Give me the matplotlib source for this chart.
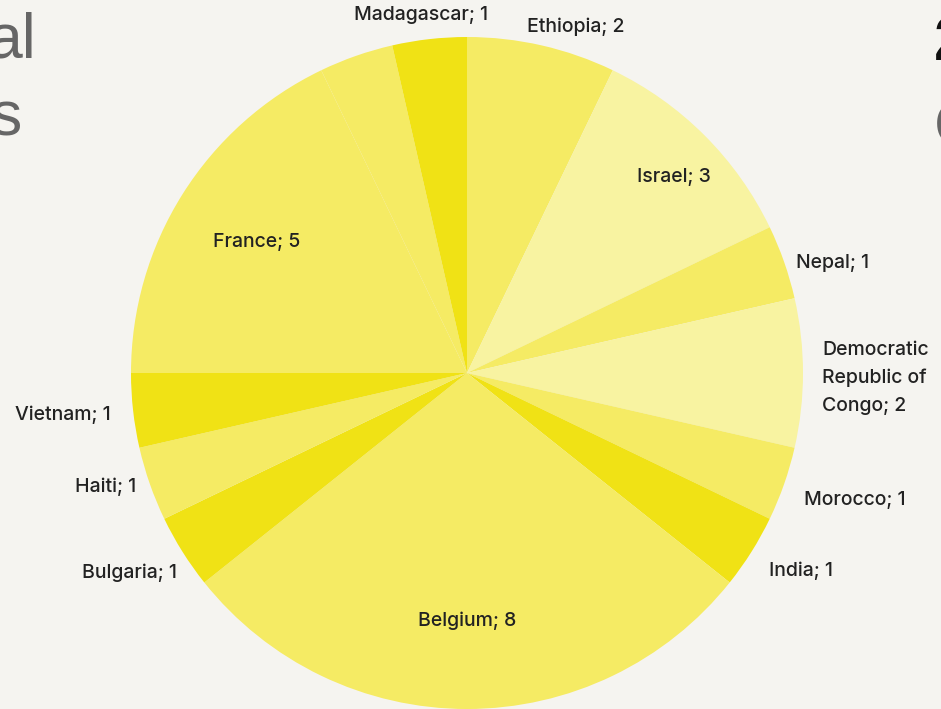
import matplotlib
matplotlib.use("Agg")
import matplotlib.pyplot as plt

# slices, clockwise from 12 o'clock
# the drawn wedges add up to 28 units; one unit between France and Madagascar has no label
countries = ["Ethiopia", "Israel", "Nepal", "Democratic\nRepublic of\nCongo", "Morocco",
             "India", "Belgium", "Bulgaria", "Haiti", "Vietnam", "France", "", "Madagascar"]
counts = [2, 3, 1, 2, 1, 1, 8, 1, 1, 1, 5, 1, 1]

MID = "#f5eb64"
PALE = "#f8f3a1"
DARK = "#f0e215"
colors = [MID, PALE, MID, PALE, MID, DARK, MID, DARK, MID, DARK, MID, MID, DARK]

# label anchor points, in pie-radius units from the centre
label_pos = [(0.324, 1.030), (0.616, 0.583), (1.089, 0.327), (1.057, -0.015), (1.155, -0.378),
             (0.994, -0.589), (0.0, -0.738), (-1.006, -0.595), (-1.077, -0.339), (-1.202, -0.125),
             (-0.625, 0.390), None, (-0.137, 1.065)]

BG = "#f5f4f0"
plt.rcParams['font.family'] = ['Inter', 'DejaVu Sans']

fig = plt.figure(figsize=(9.41, 7.09), dpi=100, facecolor=BG)
ax = fig.add_axes([0, 0, 1, 1])
ax.set_facecolor(BG)

ax.pie(counts, colors=colors, startangle=90, counterclock=False, radius=1.0,
       wedgeprops=dict(linewidth=0))

for name, n, pos in zip(countries, counts, label_pos):
    if pos is None:
        continue
    ha = 'left' if name.startswith("Democratic") else 'center'
    ax.text(pos[0], pos[1], f"{name}; {n}", ha=ha, va='center', fontsize=14, fontweight=500,
            color="#222222", linespacing=1.7)

# slide text that the screenshot cuts off
big = dict(fontsize=45, family=['Liberation Sans', 'DejaVu Sans'])
ax.text(-1.283, (373 - 58) / 336, "al", ha='right', va='baseline', color="#666666", **big)
ax.text(-1.325, (373 - 136) / 336, "s", ha='right', va='baseline', color="#666666", **big)
ax.text(1.39, (373 - 60) / 336, "2", ha='left', va='baseline', color="#111111",
        fontweight='bold', **big)
ax.text(1.39, (373 - 146) / 336, "C", ha='left', va='baseline', color="#666666", **big)

ax.set_xlim(-467 / 336, (941 - 467) / 336)
ax.set_ylim(-(709 - 373) / 336, 373 / 336)
ax.set_aspect('equal')
ax.axis('off')

fig.savefig("out.png", dpi=100, facecolor=BG)
